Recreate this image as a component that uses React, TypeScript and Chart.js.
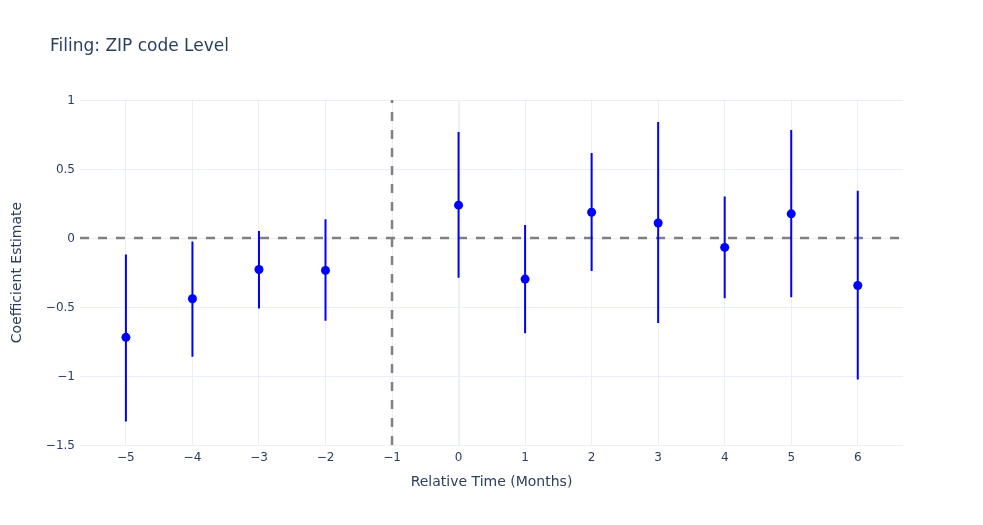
import React, { useEffect, useRef } from "react";
import { Chart, registerables } from "chart.js";

Chart.register(...registerables);

const relTime = [-5, -4, -3, -2, 0, 1, 2, 3, 4, 5, 6];
const coef = [-0.72, -0.44, -0.228, -0.235, 0.238, -0.298, 0.187, 0.109, -0.068, 0.175, -0.344];
const ciLower = [-1.33, -0.86, -0.51, -0.6, -0.288, -0.691, -0.24, -0.616, -0.437, -0.429, -1.026];
const ciUpper = [-0.12, -0.025, 0.05, 0.135, 0.769, 0.095, 0.616, 0.84, 0.301, 0.782, 0.342];
const xTicks = [-5, -4, -3, -2, -1, 0, 1, 2, 3, 4, 5, 6];
const yTicks = [-1.5, -1, -0.5, 0, 0.5, 1];
const xMin = -5.69;
const xMax = 6.68;
const yMin = -1.5;
const yMax = 1;
const refX = -1;
const refY = 0;

const FONT = '"DejaVu Sans", verdana, arial, sans-serif';
const TXT = "#2a3f5f";
const GRID = "#ebf0f8";

const fmt = (v: number) => String(v).replace("-", "\u2212");

export default function App() {
  const ref = useRef<HTMLCanvasElement | null>(null);
  useEffect(() => {
    document.body.style.margin = "0";
    const errData: any[] = [];
    relTime.forEach((x, i) => {
      errData.push({ x, y: ciLower[i] });
      errData.push({ x, y: ciUpper[i] });
      errData.push({ x, y: null });
    });
    const chart = new Chart(ref.current!, {
      type: "scatter",
      data: {
        datasets: [
          {
            label: "Coefficient",
            data: relTime.map((x, i) => ({ x, y: coef[i] })),
            backgroundColor: "#0000ff",
            borderColor: "#0000ff",
            pointRadius: 4.5,
            pointBorderWidth: 0,
            showLine: false,
            order: 0,
          },
          {
            label: "CI",
            type: "line",
            data: errData,
            borderColor: "#0000ff",
            borderWidth: 2,
            pointRadius: 0,
            spanGaps: false,
            order: 1,
          } as any,
          {
            label: "zero",
            type: "line",
            data: [
              { x: xMin, y: refY },
              { x: xMax, y: refY },
            ],
            borderColor: "#808080",
            borderWidth: 2.5,
            borderDash: [9, 9],
            pointRadius: 0,
            order: 2,
          } as any,
          {
            label: "event",
            type: "line",
            data: [
              { x: refX, y: yMin },
              { x: refX, y: yMax },
            ],
            borderColor: "#808080",
            borderWidth: 2.5,
            borderDash: [9, 9],
            pointRadius: 0,
            order: 2,
          } as any,
        ],
      },
      options: {
        animation: false,
        responsive: false,
        layout: { padding: { top: 100, right: 80, left: 0, bottom: 0 } },
        plugins: { legend: { display: false }, tooltip: { enabled: false }, title: { display: false } },
        scales: {
          x: {
            type: "linear",
            min: xMin,
            max: xMax,
            afterBuildTicks: (s: any) => {
              s.ticks = xTicks.map((v) => ({ value: v }));
            },
            afterFit: (s: any) => {
              s.height = 80;
            },
            border: { display: false },
            grid: {
              color: GRID,
              lineWidth: (c: any) => (c.tick && c.tick.value === 0 ? 2 : 1),
              drawTicks: false,
            },
            ticks: {
              color: TXT,
              font: { family: FONT, size: 12 },
              padding: 6,
              maxRotation: 0,
              autoSkip: false,
              callback: (v: any) => fmt(Number(v)),
            },
            title: {
              display: true,
              text: "Relative Time (Months)",
              color: TXT,
              font: { family: FONT, size: 14 },
              padding: { top: 0, bottom: 34 },
            },
          },
          y: {
            type: "linear",
            min: yMin,
            max: yMax,
            afterBuildTicks: (s: any) => {
              s.ticks = yTicks.map((v) => ({ value: v }));
            },
            afterFit: (s: any) => {
              s.width = 80;
            },
            border: { display: false },
            grid: { color: GRID, lineWidth: 1, drawTicks: false },
            ticks: {
              color: TXT,
              font: { family: FONT, size: 12 },
              padding: 5,
              labelOffset: 1,
              callback: (v: any) => fmt(Number(v)),
            },
            title: {
              display: true,
              text: "Coefficient Estimate",
              color: TXT,
              font: { family: FONT, size: 14 },
              padding: { top: 9, bottom: 0 },
            },
          },
        },
      },
    });
    return () => chart.destroy();
  }, []);
  return (
    <div style={{ position: "relative", width: 983, height: 525, background: "#fff" }}>
      <div
        style={{
          position: "absolute",
          left: 50,
          top: 35,
          fontFamily: FONT,
          fontSize: 17,
          color: TXT,
          whiteSpace: "nowrap",
        }}
      >
        Filing: ZIP code Level
      </div>
      <canvas ref={ref} width={983} height={525} style={{ display: "block" }} />
    </div>
  );
}
